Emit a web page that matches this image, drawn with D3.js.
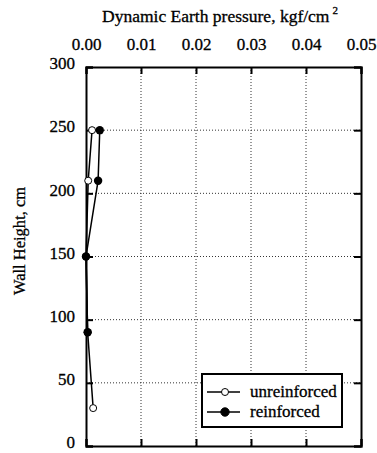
<!DOCTYPE html>
<html lang="en">
<head>
<meta charset="utf-8">
<script src="https://cdn.jsdelivr.net/npm/d3@7"></script>
<style>
  body { margin: 0; background: #fff; }
  text { font-family: "Liberation Serif", "Times New Roman", serif; fill: #000; stroke: #000; stroke-width: 0.3px; }
</style>
</head>
<body>
<div id="chart"></div>
<script>
// data
var xTicks = [0, 0.01, 0.02, 0.03, 0.04, 0.05];
var yTicks = [0, 50, 100, 150, 200, 250, 300];
var unreinfHeight = [250, 210, 150, 90, 30];
var unreinfPressure = [0.0011, 0.0004, 0.0, 0.0003, 0.0013];
var reinfHeight = [250, 210, 150, 90];
var reinfPressure = [0.0025, 0.0022, 0.0, 0.0003];

var W = 377, H = 453;
var margin = { top: 67, right: 16, bottom: 7, left: 86 };
var width = W - margin.left - margin.right;
var height = H - margin.top - margin.bottom;

var svg = d3.select('#chart').append('svg')
  .attr('width', W)
  .attr('height', H);

var g = svg.append('g')
  .attr('transform', 'translate(' + margin.left + ',' + margin.top + ')');

var x = d3.scaleLinear().domain([0, 0.05]).range([0, width]);
var y = d3.scaleLinear().domain([0, 300]).range([height, 0]);

// dotted grid
g.selectAll('.gx').data(xTicks.slice(1, -1)).enter().append('line')
  .attr('x1', function(d) { return x(d); })
  .attr('x2', function(d) { return x(d); })
  .attr('y1', 0).attr('y2', height)
  .style('stroke', '#333').style('stroke-width', 1)
  .style('stroke-dasharray', '1,2');
g.selectAll('.gy').data(yTicks.slice(1, -1)).enter().append('line')
  .attr('y1', function(d) { return y(d); })
  .attr('y2', function(d) { return y(d); })
  .attr('x1', 0).attr('x2', width)
  .style('stroke', '#333').style('stroke-width', 1)
  .style('stroke-dasharray', '1,2');

// axes, ticks pointing inward
var noLabel = function() { return ''; };
var xAxisTop = d3.axisTop(x).tickValues(xTicks).tickSize(-7).tickPadding(17)
  .tickFormat(d3.format('.2f'));
var xAxisBottom = d3.axisBottom(x).tickValues(xTicks).tickSize(-7).tickFormat(noLabel);
var yAxisLeft = d3.axisLeft(y).tickValues(yTicks).tickSize(-7).tickPadding(11);
var yAxisRight = d3.axisRight(y).tickValues(yTicks).tickSize(-7).tickFormat(noLabel);

var axes = [
  g.append('g').call(xAxisTop),
  g.append('g').attr('transform', 'translate(0,' + height + ')').call(xAxisBottom),
  g.append('g').call(yAxisLeft),
  g.append('g').attr('transform', 'translate(' + width + ',0)').call(yAxisRight)
];
axes.forEach(function(a) {
  a.attr('font-family', '"Liberation Serif", serif').attr('font-size', 17);
  a.select('.domain').style('stroke', '#000').style('stroke-width', 2);
  a.selectAll('line').style('stroke', '#000').style('stroke-width', 2);
  a.selectAll('text').style('font-family', '"Liberation Serif", serif')
    .style('font-size', '17px').style('fill', '#000');
});
// y labels sit slightly above their ticks
axes[2].selectAll('text').attr('dy', '0.1em');

// series
var line = d3.line()
  .x(function(d) { return x(d[0]); })
  .y(function(d) { return y(d[1]); });

var unreinf = d3.zip(unreinfPressure, unreinfHeight);
var reinf = d3.zip(reinfPressure, reinfHeight);

g.append('path').datum(unreinf).attr('d', line)
  .style('fill', 'none').style('stroke', '#000').style('stroke-width', 1.5);
g.append('path').datum(reinf).attr('d', line)
  .style('fill', 'none').style('stroke', '#000').style('stroke-width', 1.5);

g.selectAll('.ou').data(unreinf).enter().append('circle')
  .attr('cx', function(d) { return x(d[0]); })
  .attr('cy', function(d) { return y(d[1]); })
  .attr('r', 3.5)
  .style('fill', '#fff').style('stroke', '#000').style('stroke-width', 1);
g.selectAll('.fr').data(reinf).enter().append('circle')
  .attr('cx', function(d) { return x(d[0]); })
  .attr('cy', function(d) { return y(d[1]); })
  .attr('r', 4.2)
  .style('fill', '#000');

// legend
var lg = svg.append('g').attr('transform', 'translate(202,374)');
lg.append('rect').attr('width', 140).attr('height', 53)
  .style('fill', '#fff').style('stroke', '#000').style('stroke-width', 2);
var items = [['unreinforced', false], ['reinforced', true]];
items.forEach(function(it, i) {
  var yy = 18 + i * 20;
  lg.append('line').attr('x1', 5).attr('x2', 38).attr('y1', yy).attr('y2', yy)
    .style('stroke', '#000').style('stroke-width', 1.5);
  lg.append('circle').attr('cx', 23).attr('cy', yy).attr('r', it[1] ? 4.2 : 3.5)
    .style('fill', it[1] ? '#000' : '#fff').style('stroke', '#000');
  lg.append('text').attr('x', 48).attr('y', yy + 5).text(it[0])
    .style('font-size', '17px');
});

// titles
svg.append('text').attr('x', 220).attr('y', 22).attr('text-anchor', 'middle')
  .style('font-size', '17.5px')
  .text('Dynamic Earth pressure, kgf/cm')
  .append('tspan').attr('dx', 3).attr('dy', -8).style('font-size', '11px').text('2');

svg.append('text')
  .attr('transform', 'translate(25,241) rotate(-90)')
  .attr('text-anchor', 'middle')
  .style('font-size', '16.5px')
  .text('Wall Height, cm');
</script>
</body>
</html>
